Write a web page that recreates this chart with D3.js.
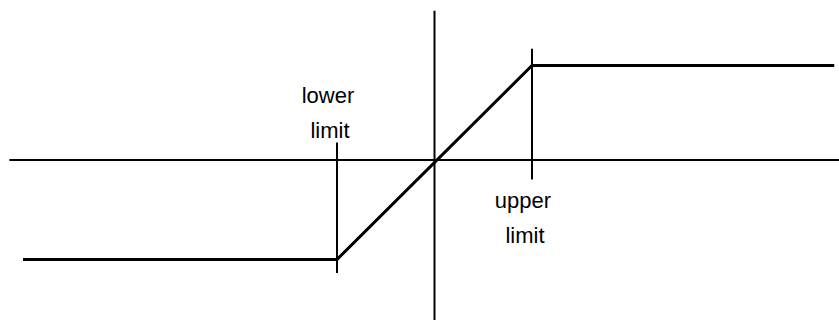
<!DOCTYPE html>
<html>
<head>
<meta charset="utf-8">
<script src="https://cdn.jsdelivr.net/npm/d3@7"></script>
<style>
  body { margin: 0; background: #fff; }
  svg { display: block; }
  .label { font-family: "Liberation Sans", Arial, Helvetica, sans-serif; font-size: 22px; fill: #000; }
</style>
</head>
<body>
<div id="chart"></div>
<script>
// saturation characteristic, input / output in the same units
const limits = [-100, 100];                 // lower, upper limit on the input
const curveX = [-422, -100, 100, 410];
const curveY = [-102, -102, 97, 97];
const xAxisExtent = [-436, 415];
const yAxisExtent = [-164, 153];
const limitTicks = [[-116, 18], [-20, 114]]; // vertical marks at each limit
const limitLabels = [["lower", "limit"], ["upper", "limit"]];

const width = 839, height = 320;

const svg = d3.select('#chart').append('svg')
    .attr('width', width)
    .attr('height', height);

const x = d3.scaleLinear().domain(limits).range([337, 532]);
const y = d3.scaleLinear().domain([0, 100]).range([160, 62.5]);

// axes through the origin
svg.append('line')
    .attr('x1', x(xAxisExtent[0])).attr('x2', x(xAxisExtent[1]))
    .attr('y1', y(0)).attr('y2', y(0))
    .attr('stroke', '#000').attr('stroke-width', 2);

svg.append('line')
    .attr('x1', x(0)).attr('x2', x(0))
    .attr('y1', y(yAxisExtent[1])).attr('y2', y(yAxisExtent[0]))
    .attr('stroke', '#000').attr('stroke-width', 2);

// limit markers
svg.selectAll('.limit-tick')
    .data(limits)
    .enter()
    .append('line')
    .attr('class', 'limit-tick')
    .attr('x1', d => x(d)).attr('x2', d => x(d))
    .attr('y1', (d, i) => y(limitTicks[i][1]))
    .attr('y2', (d, i) => y(limitTicks[i][0]))
    .attr('stroke', '#000').attr('stroke-width', 2);

// the curve
const pts = curveX.map((v, i) => [v, curveY[i]]);
svg.append('path')
    .datum(pts)
    .attr('d', d3.line().x(d => x(d[0])).y(d => y(d[1])))
    .attr('fill', 'none')
    .attr('stroke', '#000')
    .attr('stroke-width', 3);

// labels: lower one above the axis, upper one below
const labelBase = [103, 208];
limits.forEach((d, i) => {
    limitLabels[i].forEach((word, j) => {
        svg.append('text')
            .attr('class', 'label')
            .attr('x', x(d) - 7 - (j === 0 ? 2 : 0))
            .attr('y', labelBase[i] + j * 35)
            .attr('text-anchor', 'middle')
            .text(word);
    });
});
</script>
</body>
</html>
